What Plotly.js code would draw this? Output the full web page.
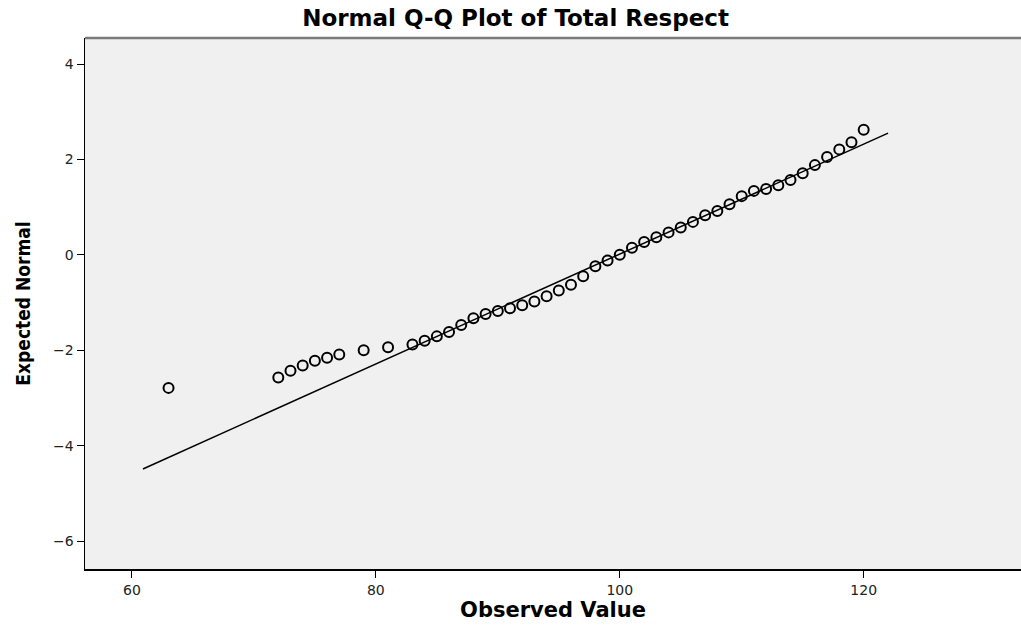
<!DOCTYPE html>
<html>
<head>
<meta charset="utf-8">
<script src="https://cdn.plot.ly/plotly-3.0.1.min.js"></script>
<style>html,body{margin:0;padding:0;background:#fff;}#chart{width:1021px;height:629px;}</style>
</head>
<body>
<div id="chart"></div>
<script>
// Observed values and their expected normal quantiles
const observed = [63, 72, 73, 74, 75, 76, 77, 79, 81, 83, 84, 85, 86, 87, 88, 89, 90, 91, 92, 93, 94, 95, 96, 97, 98, 99, 100,
  101, 102, 103, 104, 105, 106, 107, 108, 109, 110, 111, 112, 113, 114, 115, 116, 117, 118, 119, 120];
const expected = [-2.79, -2.57, -2.43, -2.32, -2.22, -2.16, -2.09, -2.0, -1.94, -1.88, -1.80, -1.71, -1.62, -1.47, -1.33, -1.24, -1.18, -1.12, -1.06, -0.98, -0.87, -0.75, -0.63, -0.45, -0.24, -0.12, 0.0,
  0.15, 0.27, 0.37, 0.47, 0.57, 0.69, 0.83, 0.92, 1.06, 1.23, 1.34, 1.38, 1.46, 1.57, 1.71, 1.88, 2.05, 2.21, 2.36, 2.62];
// Reference line endpoints (observed value, expected normal)
const lineX = [60.9, 122.0];
const lineY = [-4.49, 2.55];
const xTicks = [60, 80, 100, 120];
const yTicks = [4, 2, 0, -2, -4, -6];

const traces = [
  {x: lineX, y: lineY, mode: 'lines', type: 'scatter', line: {color: '#000', width: 1.5}, hoverinfo: 'skip'},
  {x: observed, y: expected, mode: 'markers', type: 'scatter',
   marker: {symbol: 'circle-open', size: 10, color: '#000', line: {width: 2, color: '#000'}}}
];

const layout = {
  width: 1021, height: 629,
  margin: {l: 85, r: 0, t: 38, b: 60},
  paper_bgcolor: '#ffffff', plot_bgcolor: '#f0f0f0',
  showlegend: false,
  title: {text: '<b>Normal Q-Q Plot of Total Respect</b>',
    font: {family: '"DejaVu Sans", sans-serif', size: 23, color: '#000'},
    x: 0.505, xanchor: 'center', y: 0.971, yanchor: 'middle'},
  shapes: [
    {type: 'line', xref: 'paper', yref: 'paper', x0: 0, x1: 1, y0: 1, y1: 1, line: {color: '#7a7a7a', width: 2.5}}
  ],
  xaxis: {
    range: [56.15, 132.9], tickvals: xTicks, ticktext: xTicks.map(String),
    showgrid: false, zeroline: false, showline: true, linecolor: '#000', linewidth: 2,
    ticks: 'outside', ticklen: 7, tickcolor: '#000', tickwidth: 1,
    tickfont: {family: '"DejaVu Sans", sans-serif', size: 14, color: '#222'},
    title: {text: '<b>Observed Value</b>', font: {family: '"DejaVu Sans", sans-serif', size: 21, color: '#000'}, standoff: 4}
  },
  yaxis: {
    range: [-6.587, 4.545], tickvals: yTicks, ticktext: yTicks.map(v => v < 0 ? '\u2212' + Math.abs(v) : String(v)),
    showgrid: false, zeroline: false, showline: true, linecolor: '#000', linewidth: 1.5,
    ticks: 'outside', ticklen: 7, tickcolor: '#000', tickwidth: 1,
    tickfont: {family: '"DejaVu Sans", sans-serif', size: 14, color: '#222'},
    title: {text: '<b>Expected Normal</b>', font: {family: '"DejaVu Sans Condensed", "DejaVu Sans", sans-serif', size: 19, color: '#000'}, standoff: 17}
  }
};

Plotly.newPlot('chart', traces, layout, {displayModeBar: false, staticPlot: true});
</script>
</body>
</html>
